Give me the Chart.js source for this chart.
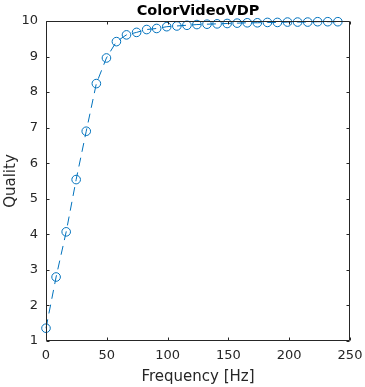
<!DOCTYPE html>
<html>
<head>
<meta charset="utf-8">
<script src="https://cdn.jsdelivr.net/npm/chart.js@4.4.1/dist/chart.umd.min.js"></script>
<style>
  html, body { margin: 0; padding: 0; background: #fff; }
  #wrap { width: 365px; height: 387px; }
</style>
</head>
<body>
<div id="wrap"><canvas id="chart" width="365" height="387"></canvas></div>
<script>
// values
const frequencies = [0, 8.3, 16.6, 24.8, 33.1, 41.4, 49.7, 57.9, 66.2, 74.5,
  82.8, 91.0, 99.3, 107.6, 115.9, 124.1, 132.4, 140.7, 149.0, 157.2,
  165.5, 173.8, 182.1, 190.3, 198.6, 206.9, 215.2, 223.4, 231.7, 240];
const quality = [1.36, 2.80, 4.07, 5.54, 6.90, 8.24, 8.96, 9.42, 9.61, 9.68,
  9.76, 9.79, 9.84, 9.86, 9.88, 9.90, 9.91, 9.92, 9.93, 9.94,
  9.95, 9.95, 9.96, 9.96, 9.97, 9.97, 9.97, 9.98, 9.98, 9.98];
const xTicks = [0, 50, 100, 150, 200, 250];
const yTicks = [1, 2, 3, 4, 5, 6, 7, 8, 9, 10];
const titleText = 'ColorVideoVDP';

const axisColor = '#262626';
const lineColor = '#0072BD';
const FONT = "'DejaVu Sans', sans-serif";

// MATLAB-like box with inward ticks on all four sides, title centred on the axes
const boxPlugin = {
  id: 'box',
  afterDatasetsDraw(chart) {
    const { ctx, chartArea: a, scales } = chart;
    const len = 3;
    const L = Math.round(a.left) + 0.5, R = Math.round(a.right) - 0.5;
    const T = Math.round(a.top) + 0.5, B = Math.round(a.bottom) - 0.5;
    ctx.save();
    ctx.strokeStyle = axisColor;
    ctx.lineWidth = 1;
    ctx.beginPath();
    ctx.rect(L, T, R - L, B - T);
    xTicks.forEach(v => {
      const px = Math.round(scales.x.getPixelForValue(v)) + 0.5;
      ctx.moveTo(px, B); ctx.lineTo(px, B - len);
      ctx.moveTo(px, T); ctx.lineTo(px, T + len);
    });
    yTicks.forEach(v => {
      const py = Math.round(scales.y.getPixelForValue(v)) + 0.5;
      ctx.moveTo(L, py); ctx.lineTo(L + len, py);
      ctx.moveTo(R, py); ctx.lineTo(R - len, py);
    });
    ctx.stroke();

    ctx.fillStyle = '#000';
    ctx.font = 'bold 14.5px ' + FONT;
    ctx.textAlign = 'center';
    ctx.textBaseline = 'alphabetic';
    ctx.fillText(titleText, (a.left + a.right) / 2, 15);
    ctx.restore();
  }
};

// fixed axis sizes, no extra label overhang padding
const fitX = s => { s.height = 46; s.paddingLeft = 0; s.paddingRight = 0; };
const fitY = s => { s.width = 46; s.paddingTop = 0; s.paddingBottom = 0; };

new Chart(document.getElementById('chart'), {
  type: 'scatter',
  data: {
    datasets: [{
      data: frequencies.map((f, i) => ({ x: f, y: quality[i] })),
      showLine: true,
      borderColor: lineColor,
      borderWidth: 1,
      borderDash: [9, 6],
      pointStyle: 'circle',
      pointRadius: 4.3,
      pointBorderWidth: 1,
      pointBorderColor: lineColor,
      pointBackgroundColor: 'rgba(0,0,0,0)',
      clip: false
    }]
  },
  options: {
    responsive: false,
    animation: false,
    layout: { padding: { left: 0, right: 15, top: 21, bottom: 0 } },
    plugins: {
      legend: { display: false },
      tooltip: { enabled: false },
      title: { display: false }
    },
    scales: {
      x: {
        type: 'linear',
        min: 0, max: 250,
        grid: { display: false, drawTicks: false },
        border: { display: false },
        afterBuildTicks: s => { s.ticks = xTicks.map(v => ({ value: v })); },
        afterFit: fitX,
        ticks: { color: axisColor, padding: 7, maxRotation: 0,
          font: { family: FONT, size: 13 } },
        title: { display: true, text: 'Frequency [Hz]', color: axisColor,
          font: { family: FONT, size: 15 }, padding: { top: 0, bottom: 1 } }
      },
      y: {
        type: 'linear',
        min: 1, max: 10,
        grid: { display: false, drawTicks: false },
        border: { display: false },
        afterBuildTicks: s => { s.ticks = yTicks.map(v => ({ value: v })); },
        afterFit: fitY,
        ticks: { color: axisColor, padding: 8,
          font: { family: FONT, size: 13 } },
        title: { display: true, text: 'Quality', color: axisColor,
          font: { family: FONT, size: 15 }, padding: { top: 2, bottom: 0 } }
      }
    }
  },
  plugins: [boxPlugin]
});
</script>
</body>
</html>
